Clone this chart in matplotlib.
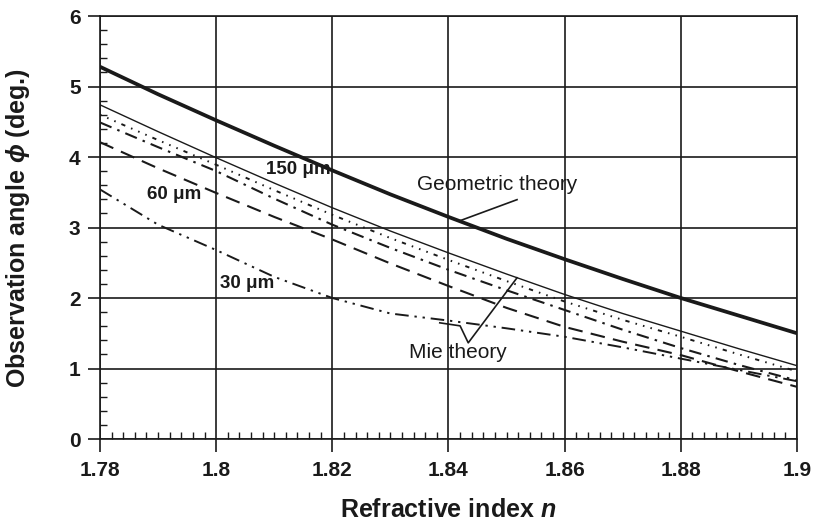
import matplotlib
matplotlib.use("Agg")
import matplotlib.pyplot as plt
from matplotlib.ticker import MultipleLocator, FixedLocator
import numpy as np

plt.rcParams['font.family'] = ['Liberation Sans', 'DejaVu Sans']
plt.rcParams['mathtext.fontset'] = 'custom'
plt.rcParams['mathtext.rm'] = 'Liberation Sans'
plt.rcParams['mathtext.it'] = 'Liberation Sans:italic'
plt.rcParams['mathtext.bf'] = 'Liberation Sans:bold'
plt.rcParams['mathtext.bfit'] = 'Liberation Sans:bold:italic'
plt.rcParams['mathtext.fallback'] = 'stixsans'

n = [1.78, 1.79, 1.80, 1.81, 1.82, 1.83, 1.84, 1.85, 1.86, 1.87, 1.88, 1.89, 1.90]
geometric = [5.28, 4.89, 4.52, 4.16, 3.81, 3.47, 3.15, 2.84, 2.55, 2.27, 2.00, 1.75, 1.50]
mie_150 = [4.74, 4.36, 3.99, 3.63, 3.28, 2.95, 2.64, 2.34, 2.05, 1.78, 1.53, 1.28, 1.04]
mie_b = [4.60, 4.24, 3.89, 3.53, 3.18, 2.85, 2.54, 2.24, 1.95, 1.69, 1.45, 1.20, 0.96]
mie_c = [4.49, 4.14, 3.80, 3.41, 3.04, 2.71, 2.40, 2.11, 1.83, 1.55, 1.29, 1.05, 0.83]
mie_60 = [4.21, 3.84, 3.49, 3.15, 2.83, 2.49, 2.17, 1.86, 1.59, 1.38, 1.19, 0.96, 0.74]
mie_30 = [3.54, 3.04, 2.68, 2.30, 2.00, 1.78, 1.68, 1.57, 1.45, 1.30, 1.14, 0.98, 0.82]

xticks = [1.78, 1.80, 1.82, 1.84, 1.86, 1.88, 1.90]
xticklabels = ["1.78", "1.8", "1.82", "1.84", "1.86", "1.88", "1.9"]
yticks = [0, 1, 2, 3, 4, 5, 6]

fig = plt.figure(figsize=(8.15, 5.23), dpi=100)
ax = fig.add_axes([0.1227, 0.1606, 0.8552, 0.8088])

k = '#1a1a1a'
ax.plot(n, geometric, color=k, lw=2.7, solid_capstyle='butt')
ax.plot(n, mie_150, color=k, lw=1.0)
ax.plot(n, mie_b, color=k, lw=1.4, linestyle=(0, (0.8, 3.2, 0.8, 3.2, 0.8, 3.2, 2.2, 3.2)))
ax.plot(n, mie_c, color=k, lw=1.5, linestyle=(0, (6, 3, 1.2, 3)))
ax.plot(n, mie_60, color=k, lw=1.5, linestyle=(0, (7, 4)))
ax.plot(n, mie_30, color=k, lw=1.4, linestyle=(0, (7, 3, 1.2, 3, 1.2, 3)))

ax.set_xlim(1.78, 1.90)
ax.set_ylim(0, 6)
ax.xaxis.set_major_locator(FixedLocator(xticks))
ax.set_xticklabels(xticklabels)
ax.yaxis.set_major_locator(FixedLocator(yticks))
ax.xaxis.set_minor_locator(MultipleLocator(0.002))
ax.yaxis.set_minor_locator(MultipleLocator(0.2))
ax.grid(True, which='major', color=k, lw=1.2)
for s in ax.spines.values():
    s.set_color(k)
    s.set_linewidth(1.2)
ax.tick_params(which='major', direction='out', length=9, width=1.2, color=k,
               labelsize=15)
ax.tick_params(axis='y', which='major', pad=5)
ax.tick_params(axis='x', which='major', pad=7)
ax.tick_params(which='minor', direction='in', length=5, width=1.0, color=k)
for lab in ax.get_xticklabels() + ax.get_yticklabels():
    lab.set_fontweight('bold')
    lab.set_color(k)

fig.text(448 / 815, 1 - 510 / 523, r"Refractive index $\boldsymbol{n}$", fontsize=18,
         fontweight='bold', color=k, ha='center', va='center')
fig.text(18 / 815, 1 - 228 / 523, r"Observation angle $\boldsymbol{\phi}$ (deg.)",
         fontsize=18, fontweight='bold', color=k, ha='center', va='center', rotation=90)

bold = dict(fontsize=13.5, fontweight='bold', color=k, ha='center', va='center')
ax.text(1.8141, 3.82, "150 \u03bcm", **bold)
ax.text(1.7927, 3.47, "60 \u03bcm", **bold)
ax.text(1.8053, 2.20, "30 \u03bcm", **bold)

norm = dict(fontsize=15, color=k, ha='center', va='center')
ax.text(1.8484, 3.61, "Geometric theory", **norm)
ax.text(1.8416, 1.22, "Mie theory", **norm)

ax.plot([1.8420, 1.8518], [3.097, 3.395], color=k, lw=1.2)
ax.plot([1.8385, 1.8420, 1.8434, 1.8518], [1.648, 1.605, 1.364, 2.287], color=k, lw=1.2)

fig.savefig("out.png", dpi=100)
